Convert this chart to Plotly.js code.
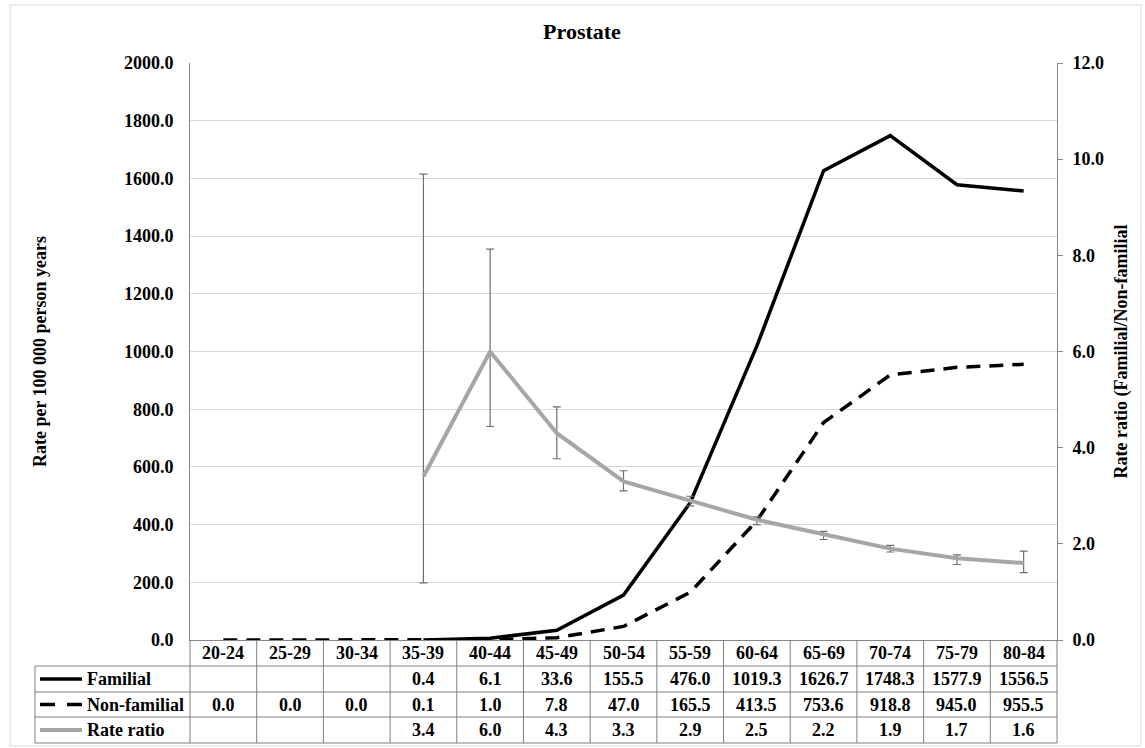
<!DOCTYPE html>
<html>
<head>
<meta charset="utf-8">
<script src="https://cdn.plot.ly/plotly-3.0.1.min.js"></script>
<style>
html,body{margin:0;padding:0;background:#fff;}
#chart{width:1145px;height:748px;}
</style>
</head>
<body>
<div id="chart"></div>
<script>
// ---- data ----
const ageGroups = ['20-24','25-29','30-34','35-39','40-44','45-49','50-54','55-59','60-64','65-69','70-74','75-79','80-84'];
const familial = [null,null,null,0.4,6.1,33.6,155.5,476.0,1019.3,1626.7,1748.3,1577.9,1556.5];
const nonFamilial = [0.0,0.0,0.0,0.1,1.0,7.8,47.0,165.5,413.5,753.6,918.8,945.0,955.5];
const rateRatio = [null,null,null,3.4,6.0,4.3,3.3,2.9,2.5,2.2,1.9,1.7,1.6];
const ratioLower = [null,null,null,1.19,4.44,3.77,3.10,2.79,2.40,2.09,1.83,1.57,1.40];
const ratioUpper = [null,null,null,9.69,8.13,4.85,3.52,2.99,2.56,2.26,1.97,1.77,1.85];
const rowLabels = ['Familial','Non-familial','Rate ratio'];
const leftTitle = 'Rate per 100 000 person years';
const rightTitle = 'Rate ratio (Familial/Non-familial';
const chartTitle = 'Prostate';

// ---- layout helpers (pixel geometry of the frame) ----
const W = 1145, H = 748;
const L = 190, R = 1057, T = 63, B = 640;
const px = x => (x - L) / (R - L);
const py = y => (B - y) / (B - T);
const FONT = '"Liberation Serif", "Times New Roman", serif';
const txt = (size) => ({family: FONT, size: size, color: '#000', weight: 'bold'});
const GRID = '#d9d9d9', AX = '#868686', TBL = '#7f7f7f';

const rowLines = [666, 692, 717, 743];
const rowCenters = [679, 704.5, 730];
const headerCenter = 653;

const traces = [
  {x: ageGroups, y: familial, type: 'scatter', mode: 'lines', name: rowLabels[0],
   line: {color: '#000', width: 3.5}, connectgaps: false, hoverinfo: 'x+y'},
  {x: ageGroups, y: nonFamilial, type: 'scatter', mode: 'lines', name: rowLabels[1],
   line: {color: '#000', width: 3.5, dash: '14px,9px'}, hoverinfo: 'x+y'},
  {x: ageGroups, y: rateRatio, yaxis: 'y2', type: 'scatter', mode: 'lines', name: rowLabels[2],
   line: {color: '#a6a6a6', width: 4},
   error_y: {type: 'data', symmetric: false,
     array: rateRatio.map((v, i) => v == null ? null : ratioUpper[i] - v),
     arrayminus: rateRatio.map((v, i) => v == null ? null : v - ratioLower[i]),
     color: '#6f6f6f', thickness: 1.2, width: 4},
   hoverinfo: 'x+y'}
];

const shapes = [];
const annotations = [];
// outer chart frame
shapes.push({type: 'rect', xref: 'paper', yref: 'paper', x0: px(10), x1: px(1141), y0: py(5), y1: py(746),
  line: {color: GRID, width: 1}, fillcolor: 'rgba(0,0,0,0)', layer: 'below'});
// table horizontal lines
rowLines.forEach(y => shapes.push({type: 'line', xref: 'paper', yref: 'paper', x0: px(35), x1: px(R),
  y0: py(y), y1: py(y), line: {color: TBL, width: 1}}));
// table vertical lines
shapes.push({type: 'line', xref: 'paper', yref: 'paper', x0: px(35), x1: px(35), y0: py(666), y1: py(743), line: {color: TBL, width: 1}});
shapes.push({type: 'line', xref: 'paper', yref: 'paper', x0: 0, x1: 0, y0: py(640), y1: py(743), line: {color: TBL, width: 1}});
shapes.push({type: 'line', xref: 'paper', yref: 'paper', x0: 1, x1: 1, y0: py(640), y1: py(743), line: {color: TBL, width: 1}});
for (let i = 0; i < ageGroups.length - 1; i++) {
  shapes.push({type: 'line', xref: 'x', yref: 'paper', x0: i + 0.5, x1: i + 0.5, y0: py(640), y1: py(743),
    line: {color: TBL, width: 1}});
}
// legend keys in the table
shapes.push({type: 'line', xref: 'paper', yref: 'paper', x0: px(40), x1: px(82), y0: py(rowCenters[0]), y1: py(rowCenters[0]), line: {color: '#000', width: 3.5}});
shapes.push({type: 'line', xref: 'paper', yref: 'paper', x0: px(40), x1: px(82), y0: py(rowCenters[1]), y1: py(rowCenters[1]), line: {color: '#000', width: 3.5, dash: '15px,12px'}});
shapes.push({type: 'line', xref: 'paper', yref: 'paper', x0: px(40), x1: px(82), y0: py(rowCenters[2]), y1: py(rowCenters[2]), line: {color: '#a6a6a6', width: 4}});
rowLabels.forEach((lab, r) => annotations.push({text: lab, xref: 'paper', yref: 'paper', x: px(85), y: py(rowCenters[r]),
  xanchor: 'left', yanchor: 'middle', showarrow: false, font: txt(18)}));
// header (category) cells
ageGroups.forEach(g => annotations.push({text: g, xref: 'x', yref: 'paper', x: g, y: py(headerCenter),
  xanchor: 'center', yanchor: 'middle', showarrow: false, font: txt(18)}));
// value cells
[familial, nonFamilial, rateRatio].forEach((series, r) => {
  series.forEach((v, i) => {
    if (v == null) return;
    annotations.push({text: v.toFixed(1), xref: 'x', yref: 'paper', x: ageGroups[i], y: py(rowCenters[r]),
      xanchor: 'center', yanchor: 'middle', showarrow: false, font: txt(18)});
  });
});

const layout = {
  width: W, height: H,
  margin: {l: L, r: W - R, t: T, b: H - B, pad: 0},
  paper_bgcolor: '#fff', plot_bgcolor: '#fff',
  showlegend: false,
  font: txt(18),
  title: {text: chartTitle, font: txt(22), xref: 'container', yref: 'container',
          x: 582 / W, y: 1 - 31 / H, xanchor: 'center', yanchor: 'middle'},
  xaxis: {type: 'category', categoryorder: 'array', categoryarray: ageGroups, range: [-0.5, 12.5],
          showticklabels: false, showgrid: false, zeroline: false, showline: true, linecolor: AX, linewidth: 1,
          ticks: '', fixedrange: true},
  yaxis: {range: [0, 2000], tick0: 0, dtick: 200, tickformat: '.1f', showgrid: true, gridcolor: GRID, gridwidth: 1,
          zeroline: false, showline: true, linecolor: AX, linewidth: 1, ticks: '', ticklabelstandoff: 12,
          tickfont: txt(18), automargin: false, fixedrange: true,
          title: {text: leftTitle, font: txt(18), standoff: 72}},
  yaxis2: {range: [0, 12], tick0: 0, dtick: 2, tickformat: '.1f', overlaying: 'y', side: 'right', showgrid: false,
           zeroline: false, showline: true, linecolor: AX, linewidth: 1, ticks: 'outside', ticklen: 5, tickcolor: AX,
           ticklabelstandoff: 6, tickfont: txt(18), automargin: false, fixedrange: true,
           title: {text: rightTitle, font: txt(18), standoff: 11}},
  shapes: shapes,
  annotations: annotations
};

Plotly.newPlot('chart', traces, layout, {displayModeBar: false, staticPlot: true});
</script>
</body>
</html>
